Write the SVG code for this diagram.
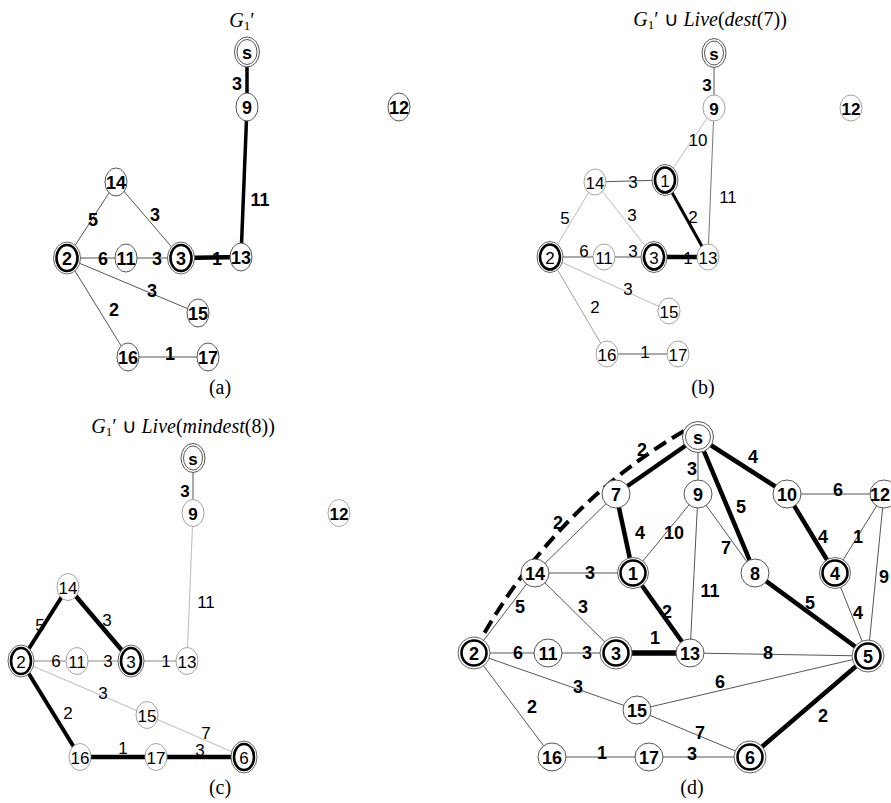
<svg xmlns="http://www.w3.org/2000/svg" width="891" height="803" viewBox="0 0 891 803">
<style>
.n{fill:#fff;stroke:#555;stroke-width:1}
.nl{fill:#fff;stroke:#999;stroke-width:0.9}
.ro{fill:#fff;stroke:#666;stroke-width:1}
.ri{fill:#fff;stroke:#000;stroke-width:2.6}
.rs{fill:#fff;stroke:#555;stroke-width:1}
.e{stroke:#555;stroke-width:1;fill:none}
.el{stroke:#aaa;stroke-width:0.8;fill:none}
.eb{stroke:#000;stroke-width:3.5;fill:none}
.ex{stroke:#000;stroke-width:5.5;fill:none}
.dash{stroke:#000;stroke-width:4;fill:none;stroke-dasharray:14 7}
text{font-family:"Liberation Sans",Arial,sans-serif;text-anchor:middle;dominant-baseline:central}
.b{font-weight:bold;font-size:18px}
.r{font-size:17px}
.t{font-family:"Liberation Serif","Times New Roman",serif;font-size:20px;dominant-baseline:alphabetic}
</style>

<!-- Titles and captions -->
<text class="t" x="242" y="27"><tspan font-style="italic">G</tspan><tspan font-size="13" dy="3">1</tspan><tspan dy="-3">′</tspan></text>
<text class="t" x="710" y="26"><tspan font-style="italic">G</tspan><tspan font-size="13" dy="3">1</tspan><tspan dy="-3">′ ∪ </tspan><tspan font-style="italic">Live</tspan>(<tspan font-style="italic">dest</tspan>(7))</text>
<text class="t" x="183" y="433"><tspan font-style="italic">G</tspan><tspan font-size="13" dy="3">1</tspan><tspan dy="-3">′ ∪ </tspan><tspan font-style="italic">Live</tspan>(<tspan font-style="italic">mindest</tspan>(8))</text>
<text class="t" x="220" y="394">(a)</text>
<text class="t" x="703" y="394">(b)</text>
<text class="t" x="220" y="794">(c)</text>
<text class="t" x="692" y="794">(d)</text>

<!-- Connectors -->
<g id="connectors">
  <!-- panel a -->
  <line class="eb" x1="247" y1="52" x2="247" y2="107"/>
  <line class="eb" x1="247" y1="107" x2="241" y2="257"/>
  <line class="e" x1="116" y1="182" x2="67" y2="258"/>
  <line class="e" x1="116" y1="182" x2="181" y2="258"/>
  <line class="e" x1="67" y1="258" x2="126" y2="258"/>
  <line class="e" x1="126" y1="258" x2="181" y2="258"/>
  <line class="ex" x1="181" y1="258" x2="241" y2="257" style="stroke-width:4.5"/>
  <line class="e" x1="67" y1="258" x2="198" y2="313"/>
  <line class="e" x1="67" y1="258" x2="128" y2="357"/>
  <line class="e" x1="128" y1="357" x2="208" y2="357"/>
  <!-- panel b -->
  <line class="e" x1="714" y1="53" x2="714" y2="108"/>
  <line class="el" x1="714" y1="108" x2="665" y2="180"/>
  <line class="e" x1="714" y1="108" x2="708" y2="257" style="stroke:#777"/>
  <line class="e" x1="595" y1="182" x2="665" y2="180"/>
  <line class="eb" x1="665" y1="180" x2="708" y2="257" style="stroke-width:3"/>
  <line class="el" x1="595" y1="182" x2="550" y2="257"/>
  <line class="el" x1="595" y1="182" x2="654" y2="257"/>
  <line class="e" x1="550" y1="257" x2="604" y2="257"/>
  <line class="e" x1="604" y1="257" x2="654" y2="257"/>
  <line class="ex" x1="654" y1="257" x2="708" y2="257" style="stroke-width:4.5"/>
  <line class="el" x1="550" y1="257" x2="669" y2="311"/>
  <line class="el" x1="550" y1="257" x2="607" y2="354" style="stroke:#888"/>
  <line class="e" x1="607" y1="354" x2="678" y2="354"/>
  <!-- panel c -->
  <line class="e" x1="193" y1="458" x2="193" y2="513"/>
  <line class="el" x1="193" y1="513" x2="187" y2="661"/>
  <line class="eb" x1="68" y1="587" x2="21" y2="661" style="stroke-width:4"/>
  <line class="eb" x1="68" y1="587" x2="131" y2="661" style="stroke-width:4.5"/>
  <line class="e" x1="21" y1="661" x2="77" y2="661" style="stroke:#888"/>
  <line class="e" x1="77" y1="661" x2="131" y2="661" style="stroke:#888"/>
  <line class="e" x1="131" y1="661" x2="187" y2="661" style="stroke:#888"/>
  <line class="el" x1="21" y1="661" x2="147" y2="715"/>
  <line class="el" x1="147" y1="715" x2="244" y2="757"/>
  <line class="eb" x1="21" y1="661" x2="80" y2="757" style="stroke-width:4"/>
  <line class="eb" x1="80" y1="757" x2="156" y2="757" style="stroke-width:4.5"/>
  <line class="eb" x1="156" y1="757" x2="244" y2="757" style="stroke-width:4.5"/>
  <!-- panel d -->
  <path class="dash" d="M 684 431 Q 556 506 481 639"/>
  <line class="eb" x1="698" y1="437" x2="616" y2="494" style="stroke-width:4.5"/>
  <line class="e" x1="698" y1="437" x2="698" y2="494"/>
  <line class="eb" x1="698" y1="437" x2="755" y2="573" style="stroke-width:4.5"/>
  <line class="eb" x1="698" y1="437" x2="787" y2="494" style="stroke-width:4.5"/>
  <line class="e" x1="787" y1="494" x2="884" y2="494"/>
  <line class="eb" x1="787" y1="494" x2="835" y2="573" style="stroke-width:4.5"/>
  <line class="e" x1="884" y1="494" x2="835" y2="573"/>
  <line class="e" x1="884" y1="494" x2="868" y2="656"/>
  <line class="e" x1="835" y1="573" x2="868" y2="656"/>
  <line class="e" x1="616" y1="494" x2="535" y2="573"/>
  <line class="eb" x1="616" y1="494" x2="633" y2="573" style="stroke-width:4.5"/>
  <line class="e" x1="698" y1="494" x2="633" y2="573"/>
  <line class="e" x1="698" y1="494" x2="755" y2="573"/>
  <line class="e" x1="698" y1="494" x2="690" y2="653"/>
  <line class="e" x1="535" y1="573" x2="633" y2="573"/>
  <line class="e" x1="535" y1="573" x2="474" y2="653"/>
  <line class="e" x1="535" y1="573" x2="616" y2="653"/>
  <line class="eb" x1="633" y1="573" x2="690" y2="653" style="stroke-width:4.5"/>
  <line class="eb" x1="755" y1="573" x2="868" y2="656" style="stroke-width:4.5"/>
  <line class="e" x1="474" y1="653" x2="548" y2="653"/>
  <line class="e" x1="548" y1="653" x2="616" y2="653"/>
  <line class="ex" x1="616" y1="653" x2="690" y2="653"/>
  <line class="e" x1="690" y1="653" x2="868" y2="656"/>
  <line class="e" x1="474" y1="653" x2="637" y2="710"/>
  <line class="e" x1="474" y1="653" x2="552" y2="757"/>
  <line class="e" x1="637" y1="710" x2="868" y2="656"/>
  <line class="e" x1="637" y1="710" x2="750" y2="757"/>
  <line class="e" x1="552" y1="757" x2="649" y2="757"/>
  <line class="e" x1="649" y1="757" x2="750" y2="757"/>
  <line class="eb" x1="750" y1="757" x2="868" y2="656" style="stroke-width:4.5"/>
</g>

<!-- Edge labels -->
<g id="edge-labels">
  <g class="b">
    <text x="237" y="84">3</text><text x="260" y="200">11</text><text x="93" y="220">5</text>
    <text x="155" y="215">3</text><text x="103" y="259">6</text><text x="157" y="259">3</text>
    <text x="217" y="259">1</text><text x="152" y="291">3</text><text x="114" y="310">2</text>
    <text x="170" y="354">1</text>
  </g>
  <g class="r">
    <text x="707" y="85" font-weight="bold">3</text><text x="698" y="140">10</text><text x="728" y="197">11</text>
    <text x="633" y="182">3</text><text x="565" y="218">5</text><text x="632" y="215">3</text>
    <text x="693" y="217">2</text><text x="584" y="251">6</text><text x="633" y="251">3</text>
    <text x="688" y="258">1</text><text x="628" y="289">3</text><text x="595" y="307">2</text>
    <text x="645" y="352">1</text>
  </g>
  <g class="r">
    <text x="185" y="491" font-weight="bold">3</text><text x="206" y="602">11</text><text x="40" y="625">5</text>
    <text x="107" y="620">3</text><text x="56" y="661">6</text><text x="108" y="661">3</text>
    <text x="166" y="661">1</text><text x="103" y="693">3</text><text x="68" y="713">2</text>
    <text x="206" y="733">7</text><text x="123" y="748">1</text><text x="200" y="750">3</text>
  </g>
  <g class="b">
    <text x="642" y="450">2</text><text x="753" y="457">4</text><text x="692" y="469">3</text>
    <text x="838" y="490">6</text><text x="741" y="507">5</text><text x="558" y="523">2</text>
    <text x="640" y="533">4</text><text x="674" y="533">10</text><text x="823" y="537">4</text>
    <text x="858" y="537">1</text><text x="884" y="577">9</text><text x="726" y="548">7</text>
    <text x="590" y="573">3</text><text x="710" y="591">11</text><text x="520" y="607">5</text>
    <text x="583" y="607">3</text><text x="667" y="612">2</text><text x="810" y="603">5</text>
    <text x="858" y="613">4</text><text x="518" y="653">6</text><text x="587" y="653">3</text>
    <text x="655" y="638">1</text><text x="768" y="653">8</text><text x="720" y="682">6</text>
    <text x="578" y="687">3</text><text x="532" y="707">2</text><text x="823" y="716">2</text>
    <text x="700" y="733">7</text><text x="602" y="753">1</text><text x="692" y="754">3</text>
  </g>
</g>

<!-- Panel a nodes -->
<g id="a-s"><ellipse class="rs" cx="247" cy="52" rx="12.5" ry="15"/><ellipse class="rs" cx="247" cy="52" rx="10" ry="12.5"/><text class="b" x="247" y="53">s</text></g>
<g id="a-9"><ellipse class="n" cx="247" cy="107" rx="11" ry="14"/><text class="b" x="247" y="108">9</text></g>
<g id="a-12"><ellipse class="n" cx="399" cy="107" rx="11" ry="14"/><text class="b" x="399" y="108">12</text></g>
<g id="a-14"><ellipse class="n" cx="116" cy="182" rx="11" ry="14"/><text class="b" x="116" y="183">14</text></g>
<g id="a-2"><ellipse class="ro" cx="67" cy="258" rx="13.5" ry="16"/><ellipse class="ri" cx="67" cy="258" rx="10.5" ry="13"/><text class="b" x="67" y="259">2</text></g>
<g id="a-11"><ellipse class="n" cx="126" cy="258" rx="11" ry="14"/><text class="b" x="126" y="259">11</text></g>
<g id="a-3"><ellipse class="ro" cx="181" cy="258" rx="13.5" ry="16"/><ellipse class="ri" cx="181" cy="258" rx="10.5" ry="13"/><text class="b" x="181" y="259">3</text></g>
<g id="a-13"><ellipse class="n" cx="241" cy="257" rx="11" ry="14"/><text class="b" x="241" y="258">13</text></g>
<g id="a-15"><ellipse class="n" cx="198" cy="313" rx="11" ry="14"/><text class="b" x="198" y="314">15</text></g>
<g id="a-16"><ellipse class="n" cx="128" cy="357" rx="11" ry="14"/><text class="b" x="128" y="358">16</text></g>
<g id="a-17"><ellipse class="n" cx="208" cy="357" rx="11" ry="14"/><text class="b" x="208" y="358">17</text></g>

<!-- Panel b nodes -->
<g id="b-s"><ellipse class="rs" cx="714" cy="53" rx="12" ry="14.5"/><ellipse class="rs" cx="714" cy="53" rx="9.5" ry="12"/><text class="b" x="714" y="54" style="font-size:17px">s</text></g>
<g id="b-9"><ellipse class="nl" cx="714" cy="108" rx="11" ry="13"/><text class="b" x="714" y="109" style="font-size:17px">9</text></g>
<g id="b-12"><ellipse class="nl" cx="851" cy="108" rx="11" ry="13"/><text class="r" x="851" y="109" font-weight="bold">12</text></g>
<g id="b-14"><ellipse class="nl" cx="595" cy="182" rx="11" ry="13"/><text class="r" x="595" y="183">14</text></g>
<g id="b-1"><ellipse class="ro" cx="665" cy="180" rx="13" ry="15.5"/><ellipse class="ri" cx="665" cy="180" rx="10" ry="12.5"/><text class="r" x="665" y="181">1</text></g>
<g id="b-2"><ellipse class="ro" cx="550" cy="257" rx="13" ry="15.5"/><ellipse class="ri" cx="550" cy="257" rx="10" ry="12.5"/><text class="r" x="550" y="258">2</text></g>
<g id="b-11"><ellipse class="nl" cx="604" cy="257" rx="11" ry="13"/><text class="r" x="604" y="258">11</text></g>
<g id="b-3"><ellipse class="ro" cx="654" cy="257" rx="13" ry="15.5"/><ellipse class="ri" cx="654" cy="257" rx="10" ry="12.5"/><text class="r" x="654" y="258">3</text></g>
<g id="b-13"><ellipse class="nl" cx="708" cy="257" rx="11" ry="13"/><text class="r" x="708" y="258">13</text></g>
<g id="b-15"><ellipse class="nl" cx="669" cy="311" rx="11" ry="13"/><text class="r" x="669" y="312">15</text></g>
<g id="b-16"><ellipse class="nl" cx="607" cy="354" rx="11" ry="13"/><text class="r" x="607" y="355">16</text></g>
<g id="b-17"><ellipse class="nl" cx="678" cy="354" rx="11" ry="13"/><text class="r" x="678" y="355">17</text></g>

<!-- Panel c nodes -->
<g id="c-s"><ellipse class="rs" cx="193" cy="458" rx="12" ry="14.5"/><ellipse class="rs" cx="193" cy="458" rx="9.5" ry="12"/><text class="b" x="193" y="459" style="font-size:17px">s</text></g>
<g id="c-9"><ellipse class="nl" cx="193" cy="513" rx="11" ry="13.5"/><text class="b" x="193" y="514" style="font-size:17px">9</text></g>
<g id="c-12"><ellipse class="nl" cx="339" cy="513" rx="11" ry="13.5"/><text class="r" x="339" y="514" font-weight="bold">12</text></g>
<g id="c-14"><ellipse class="nl" cx="68" cy="587" rx="11" ry="13.5"/><text class="r" x="68" y="588">14</text></g>
<g id="c-2"><ellipse class="ro" cx="21" cy="661" rx="13" ry="16"/><ellipse class="ri" cx="21" cy="661" rx="10" ry="13"/><text class="r" x="21" y="662">2</text></g>
<g id="c-11"><ellipse class="nl" cx="77" cy="661" rx="11" ry="13.5"/><text class="r" x="77" y="662">11</text></g>
<g id="c-3"><ellipse class="ro" cx="131" cy="661" rx="13" ry="16"/><ellipse class="ri" cx="131" cy="661" rx="10" ry="13"/><text class="r" x="131" y="662">3</text></g>
<g id="c-13"><ellipse class="nl" cx="187" cy="661" rx="11" ry="13.5"/><text class="r" x="187" y="662">13</text></g>
<g id="c-15"><ellipse class="nl" cx="147" cy="715" rx="11" ry="13.5"/><text class="r" x="147" y="716">15</text></g>
<g id="c-16"><ellipse class="nl" cx="80" cy="757" rx="11" ry="13.5"/><text class="r" x="80" y="758">16</text></g>
<g id="c-17"><ellipse class="nl" cx="156" cy="757" rx="11" ry="13.5"/><text class="r" x="156" y="758">17</text></g>
<g id="c-6"><ellipse class="ro" cx="244" cy="757" rx="13" ry="16"/><ellipse class="ri" cx="244" cy="757" rx="10" ry="13"/><text class="r" x="244" y="758">6</text></g>

<!-- Panel d nodes -->
<g id="d-s"><circle class="rs" cx="698" cy="437" r="15.5"/><circle class="rs" cx="698" cy="437" r="12.5"/><text class="b" x="698" y="438">s</text></g>
<g id="d-7"><circle class="n" cx="616" cy="494" r="14"/><text class="b" x="616" y="495">7</text></g>
<g id="d-9"><circle class="n" cx="698" cy="494" r="14"/><text class="b" x="698" y="495">9</text></g>
<g id="d-10"><circle class="n" cx="787" cy="494" r="14"/><text class="b" x="787" y="495">10</text></g>
<g id="d-12"><circle class="n" cx="884" cy="494" r="14"/><text class="b" x="880" y="495">12</text></g>
<g id="d-14"><circle class="n" cx="535" cy="573" r="14"/><text class="b" x="535" y="574">14</text></g>
<g id="d-1"><circle class="ro" cx="633" cy="573" r="15.5"/><circle class="ri" cx="633" cy="573" r="12.5"/><text class="b" x="633" y="574">1</text></g>
<g id="d-8"><circle class="n" cx="755" cy="573" r="14"/><text class="b" x="755" y="574">8</text></g>
<g id="d-4"><circle class="ro" cx="835" cy="573" r="15.5"/><circle class="ri" cx="835" cy="573" r="12.5"/><text class="b" x="835" y="574">4</text></g>
<g id="d-2"><circle class="ro" cx="474" cy="653" r="16"/><circle class="ri" cx="474" cy="653" r="12.5"/><text class="b" x="474" y="654">2</text></g>
<g id="d-11"><circle class="n" cx="548" cy="653" r="14"/><text class="b" x="548" y="654">11</text></g>
<g id="d-3"><circle class="ro" cx="616" cy="653" r="16"/><circle class="ri" cx="616" cy="653" r="12.5"/><text class="b" x="616" y="654">3</text></g>
<g id="d-13"><circle class="n" cx="690" cy="653" r="14"/><text class="b" x="690" y="654">13</text></g>
<g id="d-5"><circle class="ro" cx="868" cy="656" r="16"/><circle class="ri" cx="868" cy="656" r="12.5"/><text class="b" x="868" y="657">5</text></g>
<g id="d-15"><circle class="n" cx="637" cy="710" r="14"/><text class="b" x="637" y="711">15</text></g>
<g id="d-16"><circle class="n" cx="552" cy="757" r="14"/><text class="b" x="552" y="758">16</text></g>
<g id="d-17"><circle class="n" cx="649" cy="757" r="14"/><text class="b" x="649" y="758">17</text></g>
<g id="d-6"><circle class="ro" cx="750" cy="757" r="16"/><circle class="ri" cx="750" cy="757" r="12.5"/><text class="b" x="750" y="758">6</text></g>
</svg>
